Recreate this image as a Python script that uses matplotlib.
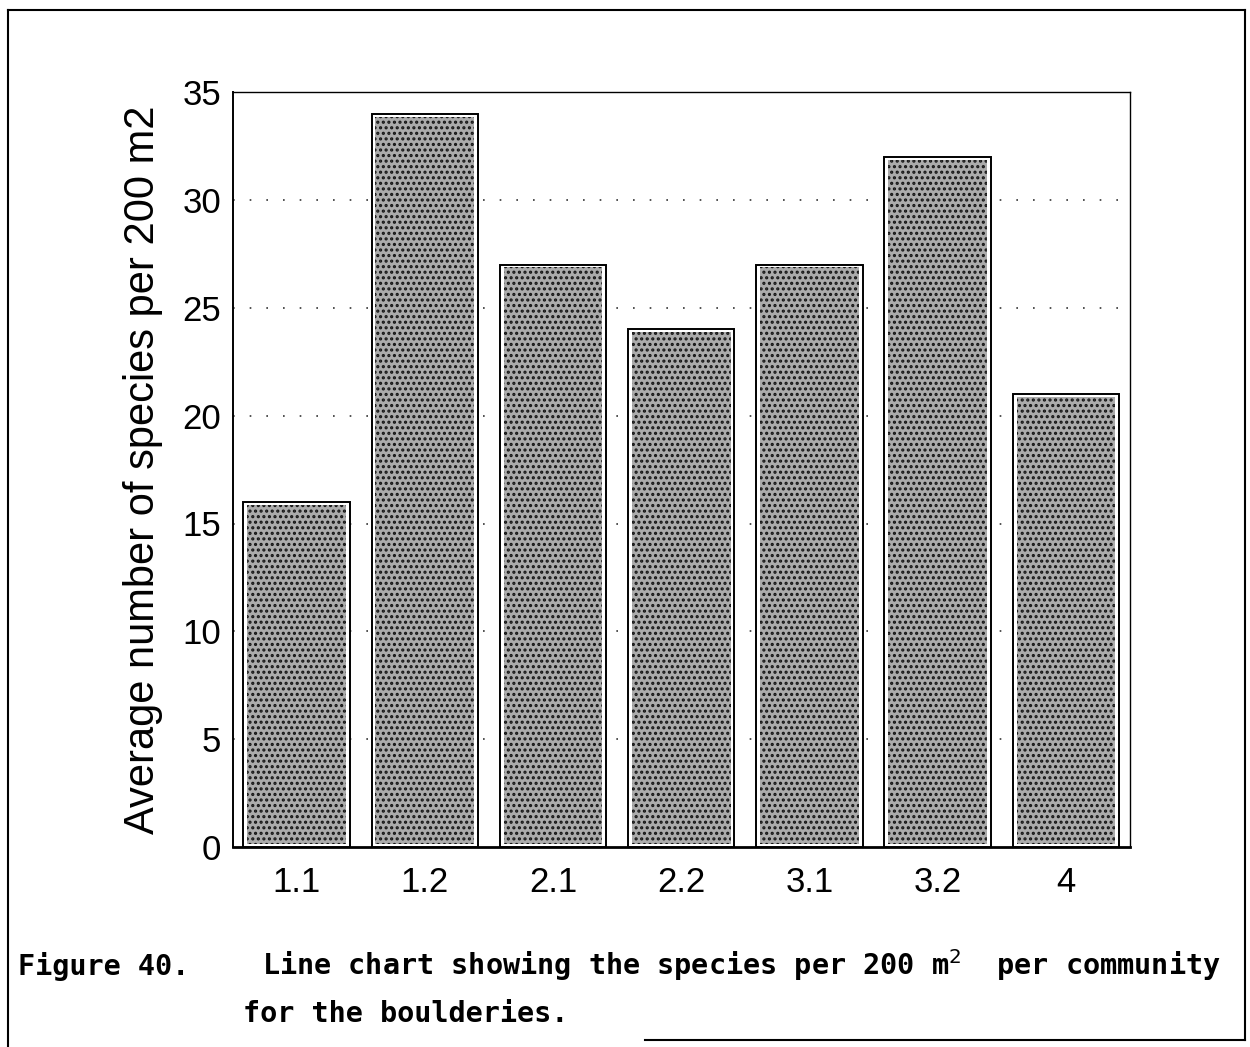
"""
Figure 40: species per 200 m2 per community for the boulderies.
"""

import numpy as np
import matplotlib.pyplot as plt
from matplotlib.lines import Line2D

# ---------- Data ----------
communities = ["1.1", "1.2", "2.1", "2.2", "3.1", "3.2", "4"]
species_per_200m2 = [16, 34, 27, 24, 27, 32, 21]
y_ticks = [0, 5, 10, 15, 20, 25, 30, 35]

plt.rcParams.update({
    "font.family": ["Liberation Sans", "DejaVu Sans"],
    "hatch.linewidth": 1.5,
})

fig = plt.figure(figsize=(12.5, 10.47), dpi=100)
ax = fig.add_axes([0.186, 0.191, 0.718, 0.721])

x = np.arange(len(communities))
vals = np.array(species_per_200m2, dtype=float)
# outline of each bar, then the stippled fill inset a little
ax.bar(x, vals, width=0.83, facecolor="white",
       edgecolor="black", linewidth=1.4, zorder=3)
ax.bar(x, vals - 0.25, bottom=0.12, width=0.77, facecolor="#ababab",
       edgecolor="#151515", hatch="...", linewidth=0, zorder=4)

ax.set_xlim(-0.5, len(communities) - 0.5)
ax.set_ylim(0, 35)
ax.set_yticks(y_ticks)
ax.set_xticks(x)
ax.set_xticklabels(communities)
ax.tick_params(length=0, labelsize=25, pad=8)
ax.tick_params(axis="x", pad=14)
ax.set_ylabel("Average number of species per 200 m2", fontsize=30, labelpad=14)

# dotted gridlines behind bars
for y in y_ticks[1:-1]:
    ax.axhline(y, color="#333333", linewidth=1.2, linestyle=(0, (1, 9)), zorder=1)

for side in ["top", "right"]:
    ax.spines[side].set_linewidth(1.0)
ax.spines["left"].set_linewidth(1.4)
ax.spines["bottom"].set_linewidth(2.0)

# ---------- Caption ----------
cap_font = dict(family="DejaVu Sans Mono", fontsize=20.5, weight="bold", va="baseline")
fig.text(18 / 1250, 1 - 975 / 1047, "Figure 40.", **cap_font)
fig.text(262 / 1250, 1 - 975 / 1047,
         "Line chart showing the species per 200 m$^2$  per community", **cap_font)
fig.text(243 / 1250, 1 - 1022 / 1047, "for the boulderies.", **cap_font)

# ---------- Page frame ----------
W, H = 1250, 1047
frame = [
    ([8, 1245], [10, 10]),
    ([8, 8], [10, 1047]),
    ([1245, 1245], [10, 1040]),
    ([645, 1245], [1040, 1040]),
]
for xs, ys in frame:
    fig.add_artist(Line2D([v / W for v in xs], [1 - v / H for v in ys],
                          color="black", linewidth=1.5,
                          transform=fig.transFigure))

fig.savefig("out.png", dpi=100)
